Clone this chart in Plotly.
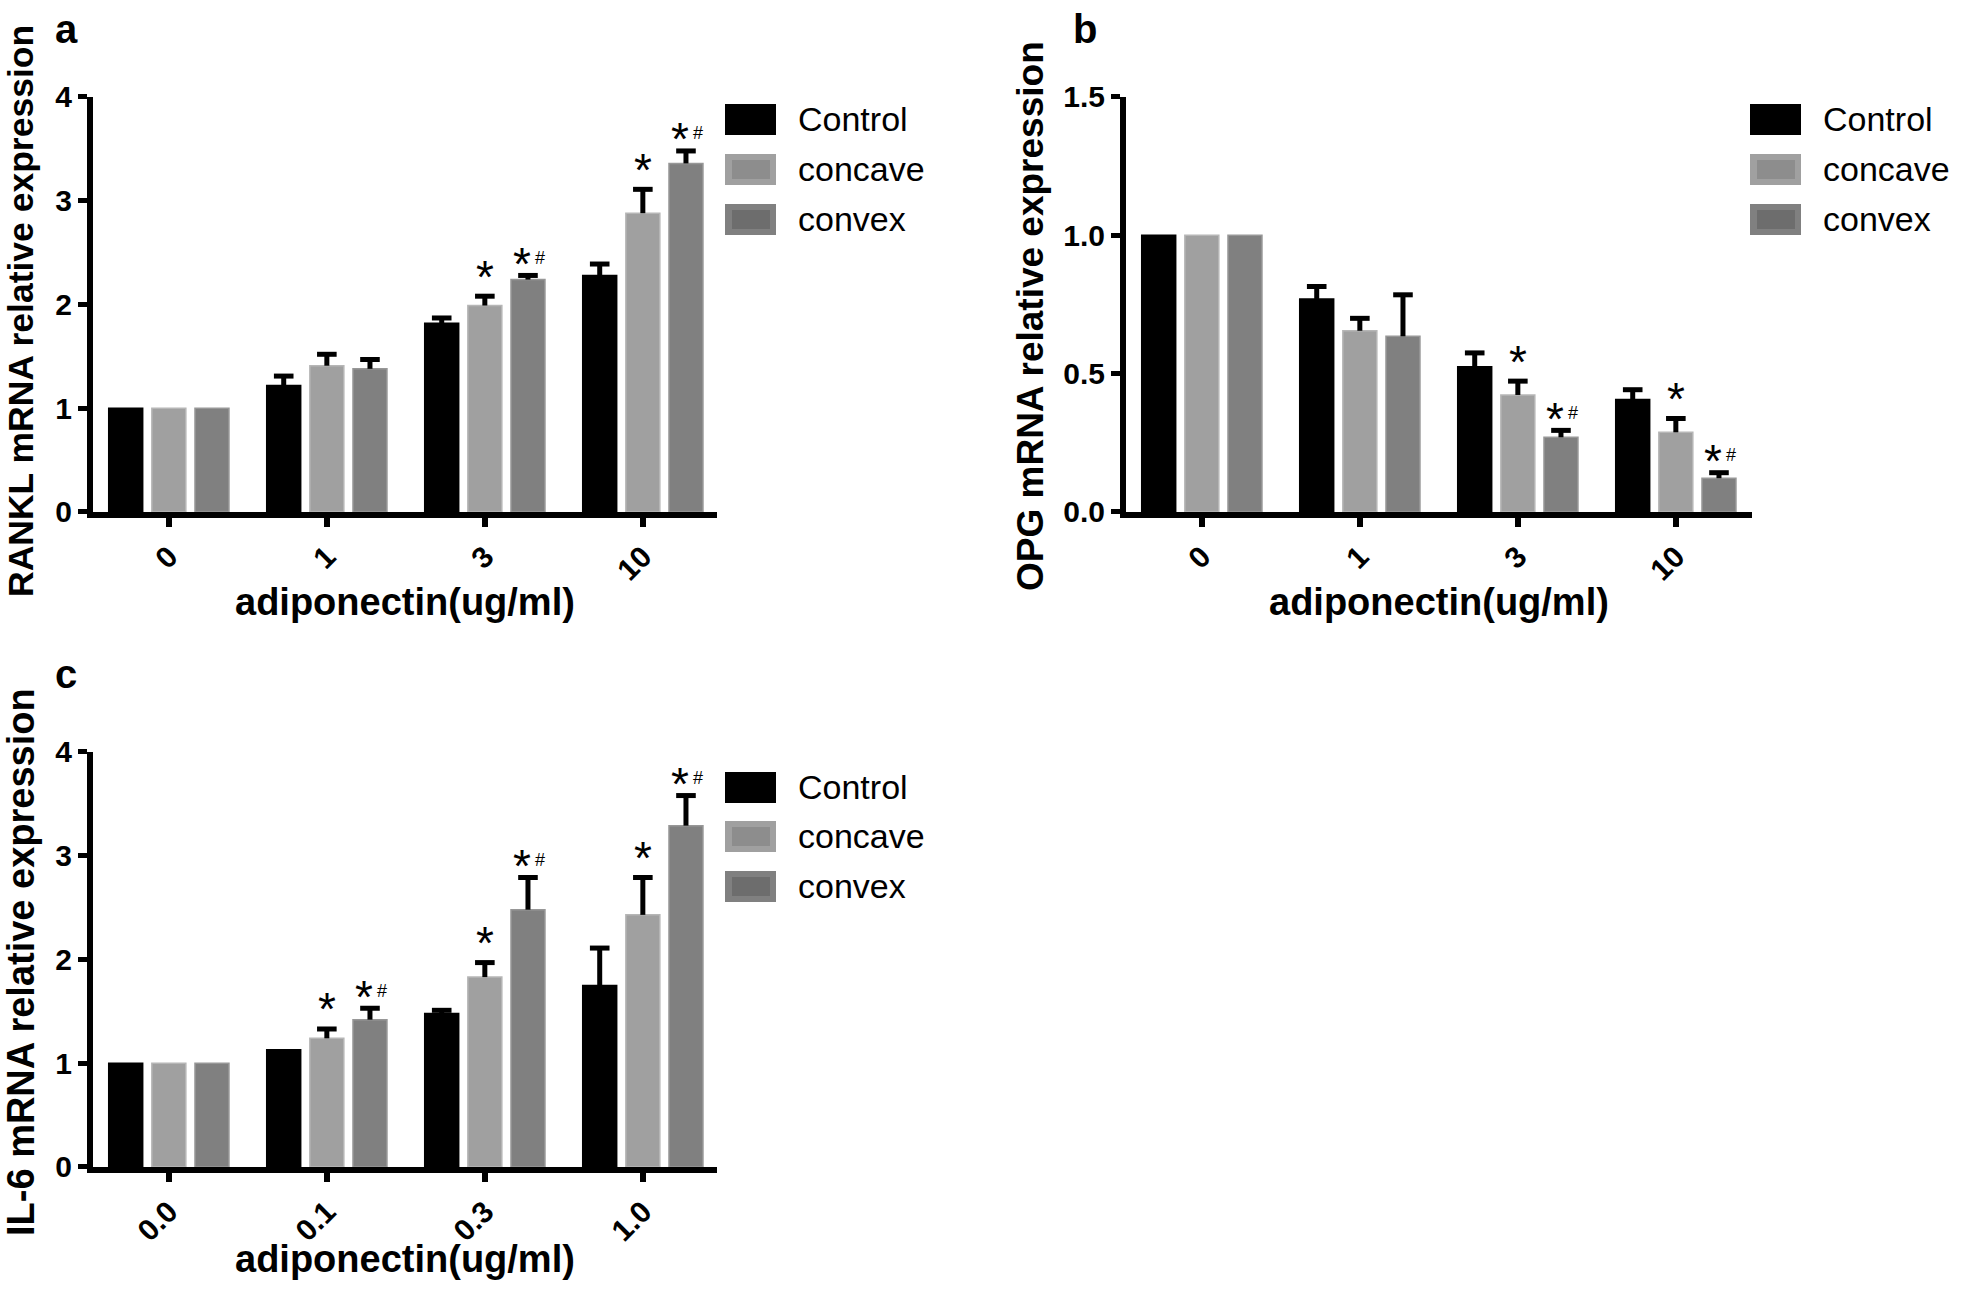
import plotly.graph_objects as go

W, H = 1961, 1298
FONT = "Liberation Sans, Arial, sans-serif"

series_names = ["Control", "concave", "convex"]

# ---- Panel a: RANKL ----
a_doses = ["0", "1", "3", "10"]
a_control = [1.00, 1.22, 1.82, 2.28]
a_control_err = [0.00, 0.09, 0.05, 0.11]
a_concave = [1.00, 1.41, 1.99, 2.88]
a_concave_err = [0.00, 0.11, 0.09, 0.23]
a_convex = [1.00, 1.38, 2.24, 3.36]
a_convex_err = [0.00, 0.09, 0.04, 0.12]
a_sig_concave = ["", "", "*", "*"]
a_sig_convex = ["", "", "*#", "*#"]

# ---- Panel b: OPG ----
b_doses = ["0", "1", "3", "10"]
b_control = [1.00, 0.77, 0.525, 0.407]
b_control_err = [0.00, 0.045, 0.05, 0.035]
b_concave = [1.00, 0.655, 0.423, 0.288]
b_concave_err = [0.00, 0.045, 0.05, 0.05]
b_convex = [1.00, 0.635, 0.27, 0.122]
b_convex_err = [0.00, 0.15, 0.025, 0.02]
b_sig_concave = ["", "", "*", "*"]
b_sig_convex = ["", "", "*#", "*#"]

# ---- Panel c: IL-6 ----
c_doses = ["0.0", "0.1", "0.3", "1.0"]
c_control = [1.00, 1.13, 1.48, 1.75]
c_control_err = [0.00, 0.00, 0.03, 0.36]
c_concave = [1.00, 1.24, 1.83, 2.43]
c_concave_err = [0.00, 0.09, 0.14, 0.36]
c_convex = [1.00, 1.42, 2.48, 3.29]
c_convex_err = [0.00, 0.11, 0.31, 0.29]
c_sig_concave = ["", "*", "*", "*"]
c_sig_convex = ["", "*#", "*#", "*#"]

# ---- styles ----
BAR_COLORS = ["#000000", "#a0a0a0", "#808080"]
BAR_EDGES = ["#000000", "#b6b6b6", "#979797"]
SWATCH_INNER = ["#000000", "#8d8d8d", "#6d6d6d"]
OFFSETS = [-0.273, 0.0, 0.273]
BAR_WIDTH = 0.215
TICK_SIZE = 30
TITLE_SIZE_X = 38
STAR_SIZE = 46

# the photographed page is squeezed vertically (page row y -> image row OY + SY*y);
# target positions below are image rows, converted back to page rows
OY = 16.0
SY = 0.9746


def px(x):
    return x / W


def py_page(y):
    return 1 - y / H


def py(y_img):
    return py_page((y_img - OY) / SY)


panels = [
    dict(label="a", xa="x", ya="y", left=93, right=717, top=97, bottom=512,
         doses=a_doses,
         vals=[a_control, a_concave, a_convex],
         errs=[a_control_err, a_concave_err, a_convex_err],
         sigs=[None, a_sig_concave, a_sig_convex],
         yrange=[0, 4], yticks=[0, 1, 2, 3, 4], yticktext=["0", "1", "2", "3", "4"],
         ytitle="RANKL mRNA relative expression", ytitle_x=21, ytitle_y=311, ytitle_size=35.5,
         xtitle_page=601, label_x=53, label_page=13.5,
         leg_x=725, leg_rows=[104, 154, 204]),
    dict(label="b", xa="x2", ya="y2", left=1126, right=1752, top=97, bottom=512,
         doses=b_doses,
         vals=[b_control, b_concave, b_convex],
         errs=[b_control_err, b_concave_err, b_convex_err],
         sigs=[None, b_sig_concave, b_sig_convex],
         yrange=[0, 1.5], yticks=[0, 0.5, 1.0, 1.5], yticktext=["0.0", "0.5", "1.0", "1.5"],
         ytitle="OPG mRNA relative expression", ytitle_x=1031, ytitle_y=316, ytitle_size=37,
         xtitle_page=601, label_x=1071, label_page=13.5,
         leg_x=1750, leg_rows=[104, 154, 204]),
    dict(label="c", xa="x3", ya="y3", left=93, right=717, top=752, bottom=1167,
         doses=c_doses,
         vals=[c_control, c_concave, c_convex],
         errs=[c_control_err, c_concave_err, c_convex_err],
         sigs=[None, c_sig_concave, c_sig_convex],
         yrange=[0, 4], yticks=[0, 1, 2, 3, 4], yticktext=["0", "1", "2", "3", "4"],
         ytitle="IL-6 mRNA relative expression", ytitle_x=21, ytitle_y=962, ytitle_size=38,
         xtitle_page=1275, label_x=53, label_page=675,
         leg_x=725, leg_rows=[772, 821, 871]),
]

GROUP_PX = 158.0
X_START = -0.48

fig = go.Figure()
annotations = []
shapes = []
layout_axes = {}

for p in panels:
    n = len(p["doses"])
    groups = list(range(n))
    for k in range(3):
        xs = [g + OFFSETS[k] for g in groups]
        vals = p["vals"][k]
        errs = p["errs"][k]
        fig.add_trace(go.Bar(
            x=xs, y=vals, width=BAR_WIDTH, xaxis=p["xa"], yaxis=p["ya"],
            marker=dict(color=BAR_COLORS[k], line=dict(color=BAR_EDGES[k], width=1.5)),
            error_y=dict(type="data", symmetric=False, array=errs,
                         arrayminus=[0] * n, color="black", thickness=5, width=0),
            showlegend=False, name=series_names[k],
        ))
        caps_y = [v + e if e > 0 else None for v, e in zip(vals, errs)]
        fig.add_trace(go.Scatter(
            x=xs, y=caps_y, mode="markers", xaxis=p["xa"], yaxis=p["ya"],
            marker=dict(symbol="line-ew", size=14, color="black",
                        line=dict(color="black", width=5)),
            showlegend=False, hoverinfo="skip",
        ))
        sig = p["sigs"][k]
        if sig:
            for g in groups:
                s = sig[g]
                if not s:
                    continue
                top = vals[g] + errs[g]
                if s == "*":
                    annotations.append(dict(
                        x=xs[g], y=top, xref=p["xa"], yref=p["ya"], text="*",
                        showarrow=False, yanchor="middle", xanchor="center",
                        yshift=19.5, font=dict(family=FONT, size=STAR_SIZE, color="black")))
                else:
                    annotations.append(dict(
                        x=xs[g], y=top, xref=p["xa"], yref=p["ya"], text="*",
                        showarrow=False, yanchor="middle", xanchor="center",
                        xshift=-6, yshift=11.5, font=dict(family=FONT, size=STAR_SIZE, color="black")))
                    annotations.append(dict(
                        x=xs[g], y=top, xref=p["xa"], yref=p["ya"], text="#",
                        showarrow=False, yanchor="middle", xanchor="center",
                        xshift=12, yshift=17.5, font=dict(family=FONT, size=18, color="black")))

    xr0 = X_START
    xr1 = X_START + (p["right"] - p["left"]) / GROUP_PX
    xkey = "xaxis" if p["xa"] == "x" else "xaxis" + p["xa"][1:]
    ykey = "yaxis" if p["ya"] == "y" else "yaxis" + p["ya"][1:]
    layout_axes[xkey] = dict(
        domain=[px(p["left"]), px(p["right"])], anchor=p["ya"], range=[xr0, xr1],
        tickmode="array", tickvals=groups, ticktext=p["doses"], tickangle=-45,
        showline=True, linecolor="black", linewidth=6, ticks="outside",
        ticklen=9, tickwidth=6, tickcolor="black", showgrid=False, zeroline=False,
        tickfont=dict(family=FONT, size=TICK_SIZE, color="black", weight="bold"),
        fixedrange=True,
    )
    layout_axes[ykey] = dict(
        domain=[py(p["bottom"]), py(p["top"])], anchor=p["xa"], range=p["yrange"],
        tickmode="array", tickvals=p["yticks"], ticktext=p["yticktext"],
        showline=True, linecolor="black", linewidth=6, ticks="outside",
        ticklen=9, tickwidth=5, tickcolor="black", showgrid=False, zeroline=False,
        tickfont=dict(family=FONT, size=TICK_SIZE, color="black", weight="bold"),
        fixedrange=True,
    )

    annotations.append(dict(
        x=px((p["left"] + p["right"]) / 2), y=py_page(p["xtitle_page"]), xref="paper", yref="paper",
        text="adiponectin(ug/ml)", showarrow=False, xanchor="center", yanchor="middle",
        font=dict(family=FONT, size=TITLE_SIZE_X, color="black", weight="bold")))
    annotations.append(dict(
        x=px(p["ytitle_x"]), y=py(p["ytitle_y"]), xref="paper", yref="paper",
        text=p["ytitle"], textangle=-90, showarrow=False, xanchor="center", yanchor="middle",
        font=dict(family=FONT, size=p["ytitle_size"], color="black", weight="bold")))
    annotations.append(dict(
        x=px(p["label_x"]), y=py_page(p["label_page"]), xref="paper", yref="paper",
        text=p["label"], showarrow=False, xanchor="left", yanchor="middle",
        font=dict(family=FONT, size=40, color="black", weight="bold")))

    for k in range(3):
        y0 = p["leg_rows"][k]
        x0 = p["leg_x"]
        shapes.append(dict(type="rect", xref="paper", yref="paper",
                           x0=px(x0), x1=px(x0 + 51), y0=py(y0 + 31), y1=py(y0),
                           fillcolor=BAR_COLORS[k], line=dict(width=0)))
        if k > 0:
            shapes.append(dict(type="rect", xref="paper", yref="paper",
                               x0=px(x0 + 7), x1=px(x0 + 45), y0=py(y0 + 25), y1=py(y0 + 6),
                               fillcolor=SWATCH_INNER[k], line=dict(width=0)))
        annotations.append(dict(
            x=px(x0 + 71), y=py(y0 + 15.5), xref="paper", yref="paper",
            text=series_names[k], showarrow=False, xanchor="left", yanchor="middle",
            font=dict(family=FONT, size=34, color="black")))

fig.update_layout(
    width=W, height=H, margin=dict(l=0, r=0, t=0, b=0),
    paper_bgcolor="white", plot_bgcolor="white",
    barmode="overlay", showlegend=False,
    annotations=annotations, shapes=shapes,
    **layout_axes,
)

fig.write_html(
    "out.html",
    config={"displayModeBar": False},
    post_script="document.body.style.margin='0';document.documentElement.style.overflow='hidden';document.body.style.overflow='hidden';",
)
